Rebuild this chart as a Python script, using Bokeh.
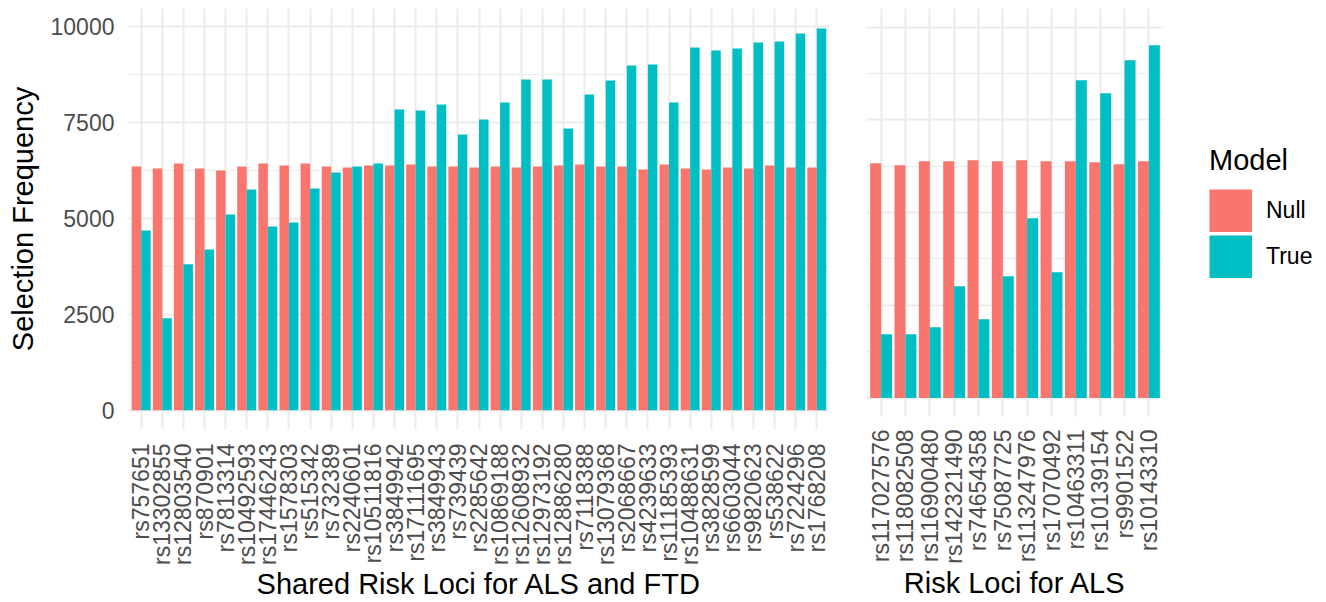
import math
from bokeh.plotting import figure
from bokeh.models import (FactorRange, Range1d, FixedTicker, Grid, Legend, LegendItem,
                          ColumnDataSource)
from bokeh.transform import dodge
from bokeh.layouts import row
from bokeh.embed import file_html
from bokeh.resources import INLINE

shared_loci = ["rs757651", "rs13302855", "rs12803540", "rs870901", "rs7813314", "rs10492593",
               "rs17446243", "rs1578303", "rs515342", "rs732389", "rs2240601", "rs10511816",
               "rs3849942", "rs17111695", "rs3849943", "rs739439", "rs2285642", "rs10869188",
               "rs12608932", "rs12973192", "rs12886280", "rs7118388", "rs13079368", "rs2068667",
               "rs4239633", "rs11185393", "rs10488631", "rs3828599", "rs6603044", "rs9820623",
               "rs538622", "rs7224296", "rs1768208"]
shared_null = [6349, 6297, 6427, 6297, 6245, 6349, 6427, 6375, 6427, 6349, 6323, 6375, 6375,
               6401, 6349, 6349, 6323, 6349, 6323, 6349, 6375, 6401, 6349, 6349, 6271, 6401,
               6297, 6271, 6323, 6297, 6375, 6323, 6323]
shared_true = [4683, 2394, 3799, 4189, 5100, 5750, 4787, 4892, 5776, 6193, 6349, 6427, 7832,
               7806, 7962, 7181, 7571, 8014, 8612, 8612, 7337, 8222, 8586, 8977, 9003, 8014,
               9445, 9367, 9419, 9575, 9601, 9809, 9939]

als_loci = ["rs117027576", "rs118082508", "rs116900480", "rs142321490", "rs74654358",
            "rs75087725", "rs113247976", "rs17070492", "rs10463311", "rs10139154",
            "rs9901522", "rs10143310"]
als_null = [6325, 6272, 6379, 6379, 6406, 6379, 6406, 6379, 6379, 6352, 6299, 6379]
als_true = [1716, 1716, 1905, 3010, 2120, 3280, 4843, 3387, 8563, 8212, 9102, 9506]

y_ticks = [0, 2500, 5000, 7500, 10000]
y_minor = [1250, 3750, 6250, 8750]
models = ["Null", "True"]

NULL_C = "#F8766D"
TRUE_C = "#00BFC4"
FONT = "Liberation Sans"
TICK_SIZE = "23px"
TITLE_SIZE = "29px"
GRID_C = "#EBEBEB"
KEY = 43


def make_panel(loci, null_vals, true_vals, xlabel, frame_w, frame_h, b_left, b_right,
               y_end, label_standoff, show_y):
    src = ColumnDataSource(dict(locus=loci, null=null_vals, true=true_vals))
    p = figure(x_range=FactorRange(factors=loci, range_padding=0.1,
                                   range_padding_units="absolute"),
               y_range=Range1d(-500, y_end),
               frame_width=frame_w, frame_height=frame_h,
               min_border_left=b_left, min_border_right=b_right,
               min_border_top=8, min_border_bottom=100,
               output_backend="svg", toolbar_location=None,
               y_axis_location="left" if show_y else None)
    p.outline_line_color = None
    p.background_fill_color = "white"
    p.border_fill_color = "white"
    p.grid.visible = False
    p.add_layout(Grid(dimension=1, ticker=FixedTicker(ticks=y_ticks, minor_ticks=y_minor),
                      grid_line_color=GRID_C, grid_line_width=2,
                      minor_grid_line_color=GRID_C, minor_grid_line_width=1.2), "center")
    p.xgrid.visible = True
    p.xgrid.grid_line_color = GRID_C
    p.xgrid.grid_line_width = 2

    p.vbar(x=dodge("locus", -0.225, range=p.x_range), top="null", width=0.45,
           bottom=0, source=src, fill_color=NULL_C, line_color=None)
    p.vbar(x=dodge("locus", 0.225, range=p.x_range), top="true", width=0.45,
           bottom=0, source=src, fill_color=TRUE_C, line_color=None)

    xa = p.xaxis[0]
    xa.major_label_orientation = math.pi / 2
    xa.major_label_text_font = FONT
    xa.major_label_text_font_size = TICK_SIZE
    xa.major_label_text_color = "#4D4D4D"
    xa.major_label_standoff = label_standoff
    xa.major_tick_out = 0
    xa.major_tick_in = 0
    xa.major_tick_line_color = None
    xa.minor_tick_line_color = None
    xa.axis_line_color = None
    xa.axis_label = xlabel
    xa.axis_label_text_font = FONT
    xa.axis_label_text_font_size = TITLE_SIZE
    xa.axis_label_text_font_style = "normal"
    xa.axis_label_text_color = "black"
    xa.axis_label_standoff = 0

    if show_y:
        ya = p.yaxis[0]
        ya.ticker = FixedTicker(ticks=y_ticks)
        ya.major_label_text_font = FONT
        ya.major_label_text_font_size = TICK_SIZE
        ya.major_label_text_color = "#4D4D4D"
        ya.major_label_standoff = 14
        ya.major_tick_out = 0
        ya.major_tick_in = 0
        ya.major_tick_line_color = None
        ya.minor_tick_line_color = None
        ya.axis_line_color = None
        ya.axis_label = "Selection Frequency"
        ya.axis_label_text_font = FONT
        ya.axis_label_text_font_size = TITLE_SIZE
        ya.axis_label_text_font_style = "normal"
        ya.axis_label_text_color = "black"
        ya.axis_label_standoff = 9
    return p


p1 = make_panel(shared_loci, shared_null, shared_true, "Shared Risk Loci for ALS and FTD",
                701, 421, 128, 0, 10460, 14, True)
p2 = make_panel(als_loci, als_null, als_true, "Risk Loci for ALS",
                297, 408, 37, 160, 10500, 13, False)

# legend keys: thick butt-capped strokes give solid square swatches
# (a single undefined point, so nothing is drawn inside the panel)
key_src = ColumnDataSource(dict(x=[als_loci[0]], y=[float("nan")]))
key_null = p2.line(x="x", y="y", source=key_src, line_color=NULL_C, line_width=KEY,
                   line_cap="butt")
key_true = p2.line(x="x", y="y", source=key_src, line_color=TRUE_C, line_width=KEY,
                   line_cap="butt")

legend = Legend(items=[LegendItem(label=models[0], renderers=[key_null]),
                       LegendItem(label=models[1], renderers=[key_true])],
                title="Model", location=(46, 138), orientation="vertical",
                glyph_width=KEY, glyph_height=KEY, spacing=3, padding=0, margin=0,
                label_standoff=14, label_text_font=FONT, label_text_font_size=TICK_SIZE,
                label_text_color="black", title_text_font=FONT,
                title_text_font_size=TITLE_SIZE, title_text_font_style="normal",
                title_text_color="black", title_standoff=12,
                border_line_color=None, background_fill_alpha=0)
p2.add_layout(legend, "right")

layout = row(p1, p2)
open("out.html", "w").write(file_html(layout, INLINE))
